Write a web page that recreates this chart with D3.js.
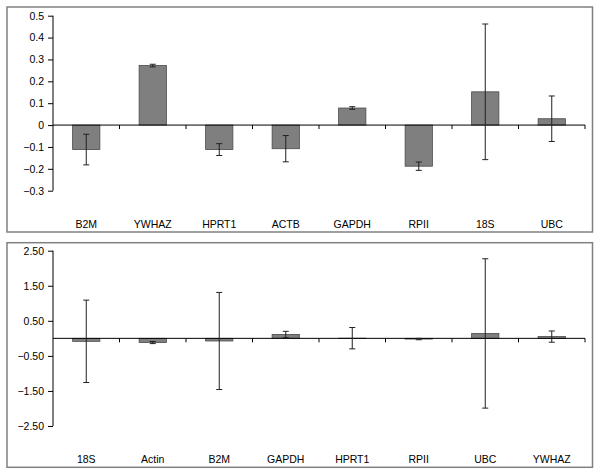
<!DOCTYPE html>
<html lang="en">
<head>
<meta charset="UTF-8">
<title>Reference gene expression</title>
<style>
    body { margin: 0; background: #fff; }
    svg text { font-family: "Liberation Sans", Arial, sans-serif; font-size: 10.5px; fill: #000; }
</style>
<script src="https://d3js.org/d3.v7.min.js"></script>
</head>
<body>
<svg id="chart" width="600" height="475"></svg>
<script>
// top panel data
var topGenes = ["B2M", "YWHAZ", "HPRT1", "ACTB", "GAPDH", "RPII", "18S", "UBC"];
var topValues = [-0.112, 0.272, -0.112, -0.108, 0.078, -0.188, 0.152, 0.029];
var topErrors = [0.070, 0.006, 0.027, 0.060, 0.006, 0.019, 0.310, 0.104];
var topTicks = [0.5, 0.4, 0.3, 0.2, 0.1, 0, -0.1, -0.2, -0.3];

// bottom panel data
var bottomGenes = ["18S", "Actin", "B2M", "GAPDH", "HPRT1", "RPII", "UBC", "YWHAZ"];
var bottomValues = [-0.085, -0.12, -0.075, 0.11, 0.005, -0.02, 0.14, 0.05];
var bottomErrors = [1.175, 0.03, 1.385, 0.09, 0.305, 0.02, 2.13, 0.16];
var bottomTicks = [2.5, 1.5, 0.5, -0.5, -1.5, -2.5];

var svg = d3.select("#chart");

function drawPanel(opts) {
    var g = svg.append("g");

    // panel frame
    g.append("rect")
        .attr("x", 7).attr("y", opts.top)
        .attr("width", 585.5).attr("height", opts.bottom - opts.top)
        .attr("fill", "#fff")
        .attr("stroke", "#808080")
        .attr("stroke-width", 1.5);

    var x = d3.scaleBand()
        .domain(opts.genes)
        .range([53, 585])
        .padding(0);

    var y = d3.scaleLinear()
        .domain(opts.domain)
        .range(opts.yRange);

    var barW = x.bandwidth() * 0.41;

    // y axis
    var yAxis = d3.axisLeft(y)
        .tickValues(opts.ticks)
        .tickFormat(opts.format)
        .tickSize(5)
        .tickPadding(4);
    var ya = g.append("g")
        .attr("transform", "translate(53,0)")
        .call(yAxis);
    ya.select(".domain").attr("stroke", "#000").attr("d", "M0," + y(opts.domain[1]) + "V" + y(opts.domain[0]));
    ya.selectAll(".tick line").attr("stroke", "#000");
    ya.selectAll("text").style("font-size", "10.5px").attr("fill", "#000");

    var data = opts.genes.map(function (d, i) {
        return { gene: d, value: opts.values[i], err: opts.errors[i] };
    });

    // bars
    g.selectAll(".bar")
        .data(data)
        .enter()
        .append("rect")
        .attr("class", "bar")
        .attr("x", function (d) { return x(d.gene) + (x.bandwidth() - barW) / 2; })
        .attr("width", barW)
        .attr("y", function (d) { return y(Math.max(0, d.value)); })
        .attr("height", function (d) { return Math.abs(y(d.value) - y(0)); })
        .attr("fill", "#7f7f7f")
        .attr("stroke", "#4a4a4a")
        .attr("stroke-width", 0.8);

    // zero line with category ticks
    g.append("line")
        .attr("x1", 53).attr("x2", 585)
        .attr("y1", y(0)).attr("y2", y(0))
        .attr("stroke", "#000");
    g.selectAll(".xtick")
        .data(opts.genes)
        .enter()
        .append("line")
        .attr("x1", function (d) { return x(d) + x.bandwidth(); })
        .attr("x2", function (d) { return x(d) + x.bandwidth(); })
        .attr("y1", y(0)).attr("y2", y(0) + 4)
        .attr("stroke", "#000");

    // error bars
    var eb = g.selectAll(".err")
        .data(data)
        .enter()
        .append("g")
        .attr("stroke", "#202020")
        .attr("stroke-width", 1);
    eb.append("line")
        .attr("x1", function (d) { return x(d.gene) + x.bandwidth() / 2; })
        .attr("x2", function (d) { return x(d.gene) + x.bandwidth() / 2; })
        .attr("y1", function (d) { return y(d.value + d.err); })
        .attr("y2", function (d) { return y(d.value - d.err); });
    [1, -1].forEach(function (s) {
        eb.append("line")
            .attr("x1", function (d) { return x(d.gene) + x.bandwidth() / 2 - 3; })
            .attr("x2", function (d) { return x(d.gene) + x.bandwidth() / 2 + 3; })
            .attr("y1", function (d) { return y(d.value + s * d.err); })
            .attr("y2", function (d) { return y(d.value + s * d.err); });
    });

    // category labels at the bottom of the panel
    g.selectAll(".lab")
        .data(opts.genes)
        .enter()
        .append("text")
        .attr("x", function (d) { return x(d) + x.bandwidth() / 2; })
        .attr("y", opts.labelY)
        .attr("text-anchor", "middle")
        .text(function (d) { return d; });
}

drawPanel({
    genes: topGenes, values: topValues, errors: topErrors, ticks: topTicks,
    domain: [-0.3, 0.5], yRange: [190.7, 15.7],
    format: function (d) { return d === 0 ? "0" : d3.format(".1f")(d); },
    top: 7, bottom: 232, labelY: 228
});

drawPanel({
    genes: bottomGenes, values: bottomValues, errors: bottomErrors, ticks: bottomTicks,
    domain: [-2.5, 2.5], yRange: [426, 250.7],
    format: d3.format(".2f"),
    top: 242.7, bottom: 467.3, labelY: 462.5
});
</script>
</body>
</html>
